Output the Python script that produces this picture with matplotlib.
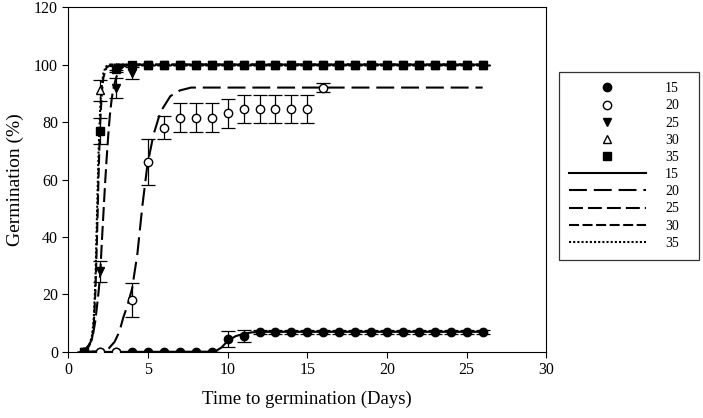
import matplotlib.pyplot as plt
from matplotlib.lines import Line2D

plt.rcParams['font.family'] = ['Liberation Serif', 'DejaVu Serif']

# ---------- OBSERVED GERMINATION (%) ----------
days_15 = list(range(1, 27))
germ_15 = [0] * 9 + [4.5, 5.5] + [7] * 15
err_15 = [0] * 9 + [2.8, 2.2] + [0.7] * 15

days_20 = list(range(1, 17))
germ_20 = [0, 0, 0, 18, 66, 78, 81.5, 81.5, 81.5, 83, 84.5, 84.5, 84.5, 84.5, 84.5, 92]
err_20 = [0, 0, 0, 6, 8, 4, 5, 5, 5, 5, 5, 5, 5, 5, 5, 1.5]

days_25 = list(range(1, 27))
germ_25 = [0, 28, 92, 97] + [100] * 22
err_25 = [0, 3.5, 3.5, 2] + [0] * 22

days_30 = list(range(1, 27))
germ_30 = [0, 91, 99] + [100] * 23
err_30 = [0, 3.5, 1] + [0] * 23

days_35 = list(range(1, 27))
germ_35 = [0, 77, 98.5] + [100] * 23
err_35 = [0, 4.5, 1] + [0] * 23

# ---------- FITTED CURVES ----------
fit_x_15 = [1, 9.0, 9.3, 9.6, 10.0, 10.5, 11.0, 11.5, 12.0, 26]
fit_y_15 = [0, 0.1, 0.5, 1.5, 3.8, 5.5, 6.3, 6.8, 7.0, 7.0]

fit_x_20 = [1, 2.0, 2.5, 2.9, 3.2, 3.45, 3.7, 4.0, 4.33, 4.65, 4.96, 5.34, 5.78, 6.4, 7.0, 7.7, 26]
fit_y_20 = [0, 0.3, 1, 3.5, 7, 12, 16, 22, 34, 51, 65, 75.5, 83.5, 89, 91, 92, 92]

fit_x_25 = [1.0, 1.3, 1.5, 1.7, 1.9, 2.0, 2.1, 2.2, 2.3, 2.4, 2.5, 2.6, 2.7, 2.8, 3.0, 3.2, 3.5, 4.0, 26]
fit_y_25 = [0.5, 2.5, 4.5, 11, 21, 27, 38, 48, 58, 67, 75, 82, 87, 91, 95.5, 98, 99.5, 100, 100]

fit_x_30 = [1.0, 1.3, 1.5, 1.6, 1.7, 1.8, 1.9, 2.0, 2.1, 2.2, 2.4, 2.7, 26]
fit_y_30 = [0.3, 2, 5, 10, 21, 40, 62, 80, 90, 95.5, 99, 100, 100]

fit_x_35 = [1.0, 1.3, 1.5, 1.6, 1.7, 1.8, 1.9, 2.0, 2.1, 2.2, 2.35, 2.6, 26]
fit_y_35 = [0.3, 2, 6, 12, 25, 48, 70, 85, 93, 97, 99.3, 100, 100]

labels = ['15', '20', '25', '30', '35']

# ---------- STYLES ----------
lw = 1.5
dash_styles = ['-', (0, (8.6, 3.3)), (0, (6.7, 2.4)), (0, (4.8, 1.7)), (0, (1, 1))]
markers = ['o', 'o', 'v', '^', 's']
faces = ['black', 'white', 'black', 'white', 'black']

fig = plt.figure(figsize=(7.03, 4.18), dpi=100)
ax = fig.add_axes([0.0972, 0.158, 0.680, 0.825])

fits = [(fit_x_15, fit_y_15), (fit_x_20, fit_y_20), (fit_x_25, fit_y_25),
        (fit_x_30, fit_y_30), (fit_x_35, fit_y_35)]
obs = [(days_15, germ_15, err_15), (days_20, germ_20, err_20), (days_25, germ_25, err_25),
       (days_30, germ_30, err_30), (days_35, germ_35, err_35)]

# curves
for (fx, fy), ls in zip(fits, dash_styles):
    ax.plot(fx, fy, color='black', lw=lw, linestyle=ls, zorder=2)

# points with error bars
for (dx, gy, ey), m, fc in zip(obs, markers, faces):
    ax.errorbar(dx, gy, yerr=ey, fmt=m, color='black', mfc=fc, mec='black',
                ms=6, elinewidth=0.9, capsize=5, capthick=0.9, zorder=3)

ax.set_xlim(0, 30)
ax.set_ylim(0, 120)
ax.set_xticks(range(0, 31, 5))
ax.set_yticks(range(0, 121, 20))
ax.tick_params(direction='out', length=4, width=0.8, labelsize=11.5, top=False, right=False)
ax.set_xlabel('Time to germination (Days)', fontsize=13.5, labelpad=9)
ax.set_ylabel('Germination (%)', fontsize=14, labelpad=7)

# ---------- LEGEND ----------
handles = []
for m, fc in zip(markers, faces):
    handles.append(Line2D([], [], linestyle='none', marker=m, color='black',
                          mfc=fc, mec='black', ms=6))
for ls in dash_styles:
    handles.append(Line2D([], [], color='black', lw=lw, linestyle=ls))

leg = fig.legend(handles, labels + labels, loc='upper left',
                 bbox_to_anchor=(0.795, 0.828, 0.2, 0.0), mode='expand',
                 fontsize=10, frameon=True, fancybox=False, edgecolor='black',
                 handlelength=5.5, handletextpad=1.4, labelspacing=0.3,
                 borderpad=0.75, borderaxespad=0, numpoints=1)
leg.get_frame().set_linewidth(0.9)

fig.savefig('out.png', dpi=100)
